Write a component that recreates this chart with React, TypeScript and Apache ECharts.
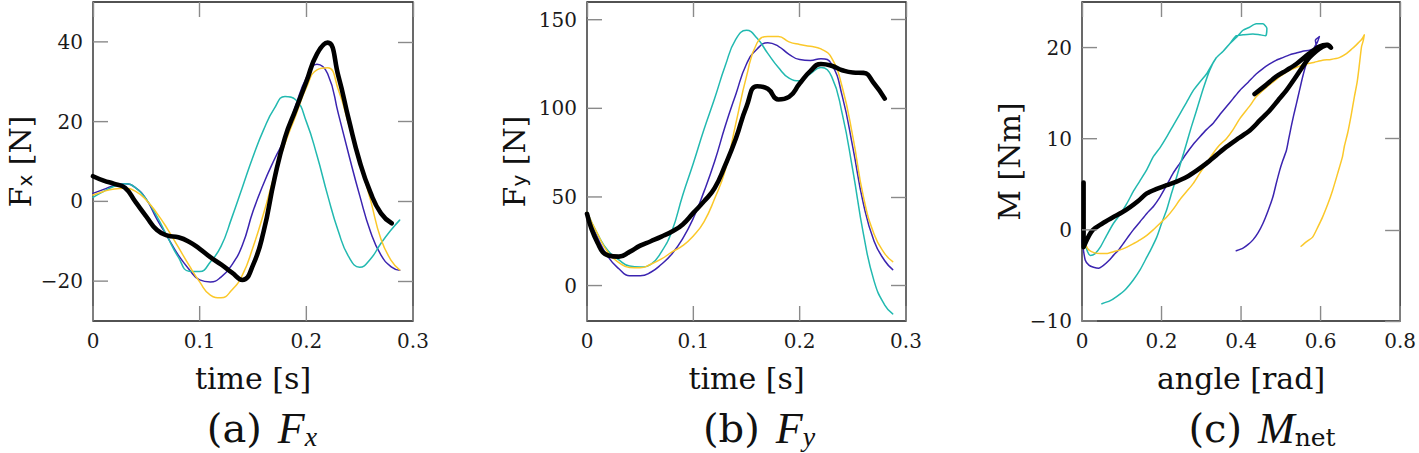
import React, { useEffect, useRef } from "react";
import * as echarts from "echarts";

// ---------- data ----------
const timeColor = [0, 0.01, 0.02, 0.03, 0.04, 0.05, 0.06, 0.07, 0.08, 0.09, 0.1, 0.11, 0.12, 0.13, 0.14, 0.15, 0.16, 0.17, 0.18, 0.19, 0.2, 0.21, 0.22, 0.23, 0.24, 0.25, 0.26, 0.27, 0.28, 0.2875];
const timeBlack = [0, 0.01, 0.02, 0.03, 0.04, 0.05, 0.06, 0.07, 0.08, 0.09, 0.1, 0.11, 0.12, 0.13, 0.14, 0.15, 0.16, 0.17, 0.18, 0.19, 0.2, 0.21, 0.22, 0.23, 0.24, 0.25, 0.26, 0.27, 0.28];

// (a) Fx [N]
const fxBlack = [6.3, 5.2, 4.4, 3.4, -0.2, -3.8, -7.2, -8.6, -9, -10.1, -11.9, -14, -15.8, -17.8, -19.7, -16, -7.5, 5.5, 16, 23, 30, 37, 39.8, 31.5, 20.3, 10, 2.3, -3, -5.5];
const fxPurple = [2, 3, 4, 4.4, 3.4, 0.5, -4.5, -9, -13.5, -17, -19.7, -20.2, -19, -16, -11, -2.5, 4.5, 10.5, 16, 24, 31, 34.4, 32, 22, 11.5, 1.5, -7.5, -13.5, -16.5, -17.3];
const fxCyan = [1, 2.5, 3.8, 4.4, 3.4, 0.5, -3.8, -9, -14, -17.5, -17.6, -15.2, -11.3, -4.2, 3.5, 11.2, 18, 23.3, 26.3, 25.5, 20, 11.5, 1.5, -7.5, -14, -16.5, -14.5, -10.5, -7, -4.7];
const fxYellow = [1.6, 2.5, 3.1, 3.3, 2.5, 0.3, -3, -7, -11.5, -16, -20.2, -23.5, -24.2, -22.3, -18.5, -11.5, -3, 6.5, 14.5, 21.5, 28.5, 33, 33.5, 28, 19, 10, 0.5, -9.5, -15, -17.2];

// (b) Fy [N]
const fyBlack = [40.5, 24, 17, 16.3, 19, 22.5, 25, 27.6, 30.5, 34.5, 41, 47.5, 55, 68, 83, 101, 112.5, 111, 105, 106.5, 114, 121, 125, 124, 121.5, 120.2, 120, 114, 105.5];
const fyPurple = [41.5, 27, 16, 9.5, 5.5, 5.5, 7.5, 12, 18, 26.5, 38, 53, 70, 90, 108, 125, 133.5, 137, 135, 130.5, 127.5, 127, 128, 125, 107, 78, 46, 25, 14, 9];
const fyCyan = [41.5, 29, 19.5, 14.5, 11, 10.5, 12, 19, 31, 51, 69, 88, 105.5, 124, 139, 144, 139.5, 131, 123, 117, 115.5, 119.5, 123, 118, 97, 65, 29, 2.5, -11, -16];
const fyYellow = [41.5, 29, 18.5, 13, 10.2, 10, 12, 15, 19, 22.5, 28, 36, 49, 65, 91.5, 118, 137, 140.5, 140.5, 137.5, 136, 135, 133.5, 128.5, 112, 84, 50, 29, 18, 13.5];

// (c) M [Nm] vs angle [rad]
const mBlackAngle = [0.004, 0.004, 0.012, 0.022, 0.033, 0.055, 0.079, 0.1, 0.121, 0.142, 0.163, 0.188, 0.213, 0.238, 0.263, 0.288, 0.313, 0.338, 0.363, 0.392, 0.422, 0.447, 0.472, 0.493, 0.514, 0.535, 0.555, 0.572, 0.589, 0.605, 0.618, 0.626, 0.615, 0.597, 0.57, 0.539, 0.514, 0.488, 0.46, 0.434];
const mBlackMoment = [5.2, -1.9, -1.1, -0.3, 0.2, 0.8, 1.4, 1.9, 2.5, 3.2, 4.0, 4.5, 4.9, 5.3, 5.8, 6.5, 7.3, 8.2, 9.1, 10.0, 10.9, 12.0, 13.1, 14.2, 15.3, 16.6, 17.9, 18.9, 19.6, 20.1, 20.3, 20.0, 20.3, 20.1, 19.3, 18.2, 17.5, 16.8, 15.8, 14.9];

const mCyanAngle = [0.008, 0.014, 0.021, 0.033, 0.046, 0.062, 0.079, 0.096, 0.113, 0.13, 0.146, 0.163, 0.179, 0.196, 0.213, 0.23, 0.246, 0.263, 0.28, 0.296, 0.313, 0.325, 0.338, 0.355, 0.371, 0.388, 0.405, 0.42, 0.438, 0.455, 0.465, 0.462, 0.447, 0.43, 0.405, 0.388, 0.371, 0.355, 0.338, 0.321, 0.305, 0.288, 0.275, 0.263, 0.25, 0.238, 0.225, 0.213, 0.2, 0.188, 0.175, 0.163, 0.146, 0.129, 0.108, 0.088, 0.07, 0.05];
const mCyanMoment = [-1.5, -2.4, -2.8, -2.6, -1.9, -0.6, 0.7, 1.7, 2.9, 4.3, 5.4, 6.6, 8.0, 9.0, 10.2, 11.5, 12.7, 14.0, 15.3, 16.2, 17.1, 18.0, 18.9, 19.6, 20.4, 21.1, 21.9, 22.2, 22.6, 22.6, 22.1, 21.3, 21.4, 21.5, 21.4, 21.3, 20.4, 19.6, 18.9, 17.5, 15.5, 13.1, 11.3, 9.5, 7.6, 5.8, 4.0, 2.2, 0.7, -0.8, -2.0, -3.0, -4.4, -5.5, -6.6, -7.3, -7.8, -8.1];

const mPurpleAngle = [0.0, 0.008, 0.018, 0.029, 0.042, 0.054, 0.067, 0.079, 0.092, 0.104, 0.117, 0.129, 0.146, 0.163, 0.18, 0.196, 0.213, 0.229, 0.246, 0.263, 0.28, 0.296, 0.313, 0.33, 0.346, 0.363, 0.38, 0.397, 0.418, 0.438, 0.455, 0.472, 0.488, 0.505, 0.522, 0.539, 0.555, 0.572, 0.585, 0.589, 0.587, 0.597, 0.592, 0.58, 0.572, 0.564, 0.555, 0.547, 0.539, 0.532, 0.526, 0.52, 0.514, 0.505, 0.497, 0.488, 0.48, 0.468, 0.455, 0.443, 0.43, 0.418, 0.405, 0.388];
const mPurpleMoment = [-1.1, -3.3, -3.9, -4.1, -4.2, -3.9, -3.4, -2.8, -2.2, -1.5, -0.7, 0, 0.9, 1.8, 2.6, 3.6, 4.9, 6.2, 7.3, 8.4, 9.4, 10.2, 11.0, 11.7, 12.6, 13.5, 14.4, 15.3, 16.2, 17.1, 17.7, 18.2, 18.6, 18.9, 19.2, 19.4, 19.6, 19.7, 19.9, 20.2, 20.8, 21.2, 20.6, 19.7, 19.0, 18.2, 16.8, 15.3, 13.8, 12.5, 11.3, 10.0, 8.7, 7.6, 6.5, 5.0, 3.6, 2.1, 0.7, -0.3, -1.1, -1.6, -2.0, -2.3];

const mYellowAngle = [0.004, 0.01, 0.017, 0.03, 0.046, 0.062, 0.079, 0.096, 0.113, 0.13, 0.146, 0.163, 0.179, 0.196, 0.213, 0.23, 0.246, 0.263, 0.28, 0.296, 0.313, 0.33, 0.346, 0.363, 0.38, 0.397, 0.422, 0.438, 0.46, 0.48, 0.5, 0.522, 0.543, 0.564, 0.585, 0.605, 0.626, 0.647, 0.664, 0.68, 0.69, 0.697, 0.705, 0.71, 0.707, 0.703, 0.697, 0.692, 0.685, 0.677, 0.668, 0.66, 0.655, 0.643, 0.63, 0.618, 0.605, 0.593, 0.58, 0.565, 0.551];
const mYellowMoment = [-0.8, -1.7, -2.2, -2.5, -2.6, -2.6, -2.4, -2.2, -1.9, -1.5, -1.1, -0.6, 0, 0.7, 1.4, 2.3, 3.3, 4.2, 5.1, 6.2, 7.3, 8.4, 9.3, 10.0, 11.0, 12.2, 13.6, 14.6, 15.5, 16.2, 16.9, 17.5, 17.9, 18.2, 18.4, 18.6, 18.7, 18.9, 19.3, 19.9, 20.3, 20.6, 21.0, 21.4, 20.7, 20.1, 17.9, 16.2, 14.6, 12.6, 10.6, 9.2, 8.0, 6.2, 4.3, 2.8, 1.4, 0.3, -0.8, -1.3, -1.8];

// tick values
const timeTicks = [0, 0.1, 0.2, 0.3];
const fxTicks = [-20, 0, 20, 40];
const fyTicks = [0, 50, 100, 150];
const angleTicks = [0, 0.2, 0.4, 0.6, 0.8];
const mTicks = [-10, 0, 10, 20];

// ---------- styles ----------
const C_CYAN = "#22b9b0";
const C_PURPLE = "#3b24b0";
const C_YELLOW = "#fbc82a";
const C_BLACK = "#000000";
const SERIF = "DejaVu Serif";
const TICK_LEN = 15;
const TICK_COLOR = "#8a8a8a";
const TICK_W = 1.4;

const zip = (xs: number[], ys: number[]) => xs.map((x, i) => [x, ys[i]]);
const fmt = (v: number) => {
  if (v === 0) return "0";
  const s = Math.abs(v) < 1 ? String(Math.round(Math.abs(v) * 10) / 10) : String(Math.abs(v));
  return v < 0 ? "\u2212" + s : s;
};

const tickStyle = { color: TICK_COLOR, width: TICK_W };
const labelStyle = { fontFamily: SERIF, fontSize: 20, color: "#1a1a1a" };

function mainX(grid: number, min: number, max: number, ticks: number[], name: string) {
  return {
    type: "value", gridIndex: grid, min, max, position: "bottom",
    axisLine: { show: false, onZero: false }, splitLine: { show: false },
    axisTick: { show: false },
    axisLabel: { show: true, margin: 10, ...labelStyle, formatter: fmt, customValues: ticks, showMinLabel: true, showMaxLabel: true },
    name, nameLocation: "middle", nameGap: 42,
    nameTextStyle: { fontFamily: SERIF, fontSize: 30, color: "#111" },
  };
}
function mirrorX(grid: number, min: number, max: number, ticks: number[]) {
  return {
    type: "value", gridIndex: grid, min, max, position: "top",
    axisLine: { show: false, onZero: false }, splitLine: { show: false },
    axisTick: { show: true, inside: true, length: TICK_LEN, lineStyle: tickStyle, customValues: ticks },
    axisLabel: { show: false },
  };
}
function mainY(grid: number, min: number, max: number, ticks: number[], name: string, rich: any) {
  return {
    type: "value", gridIndex: grid, min, max, position: "left",
    axisLine: { show: false, onZero: false }, splitLine: { show: false },
    axisTick: { show: false },
    axisLabel: { show: true, margin: 10, ...labelStyle, formatter: fmt, customValues: ticks },
    name, nameLocation: "middle", nameGap: 58, nameRotate: 90,
    nameTextStyle: { fontFamily: SERIF, fontSize: 30, color: "#111", rich },
  };
}
function mirrorY(grid: number, min: number, max: number, ticks: number[]) {
  return {
    type: "value", gridIndex: grid, min, max, position: "right",
    axisLine: { show: false, onZero: false }, splitLine: { show: false },
    axisTick: { show: true, inside: true, length: TICK_LEN, lineStyle: tickStyle, customValues: ticks },
    axisLabel: { show: false },
  };
}

function line(data: number[][], color: string, ax: number, black: boolean, smooth: number | boolean) {
  return {
    type: "line", xAxisIndex: ax, yAxisIndex: ax, data, showSymbol: false, symbol: "none",
    smooth,
    lineStyle: { color, width: black ? 4.6 : 1.5, cap: "round", join: "round" },
    z: black ? 5 : 3, silent: true,
  };
}

const subRich = {
  s: { fontFamily: "DejaVu Sans", fontSize: 20, color: "#111", verticalAlign: "bottom", lineHeight: 22 },
};

// panels: axis index, x ticks, y ticks, x min, y min
const PANELS = [
  { ax: 0, xt: timeTicks, yt: fxTicks, xMin: 0, yMin: -30 },
  { ax: 2, xt: timeTicks, yt: fyTicks, xMin: 0, yMin: -20 },
  { ax: 4, xt: angleTicks, yt: mTicks, xMin: 0, yMin: -10 },
];

export default function App() {
  const ref = useRef<HTMLDivElement>(null);
  useEffect(() => {
    document.body.style.margin = "0";
    if (!ref.current) return;
    const chart = echarts.init(ref.current, undefined, { renderer: "svg" });
    const capRich = {
      p: { fontFamily: SERIF, fontSize: 40, fill: "#111", lineHeight: 44, padding: [0, 16, 0, 0] },
      m: { fontFamily: "Liberation Serif", fontStyle: "italic", fontSize: 44, fill: "#111", lineHeight: 44 },
      s: { fontFamily: "Liberation Serif", fontStyle: "italic", fontSize: 28, fill: "#111", verticalAlign: "bottom", lineHeight: 22 },
      r: { fontFamily: SERIF, fontSize: 25, fill: "#111", verticalAlign: "bottom", lineHeight: 22 },
    };
    const option: any = {
      animation: false,
      backgroundColor: "#ffffff",
      grid: [
        { left: 93, top: 2, width: 320, height: 319, show: true, borderColor: "#1a1a1a", borderWidth: 1.3, backgroundColor: "transparent" },
        { left: 587, top: 2, width: 319, height: 319, show: true, borderColor: "#1a1a1a", borderWidth: 1.3, backgroundColor: "transparent" },
        { left: 1082, top: 2, width: 319, height: 319, show: true, borderColor: "#1a1a1a", borderWidth: 1.3, backgroundColor: "transparent" },
      ],
      xAxis: [
        mainX(0, 0, 0.3, timeTicks, "time [s]"),
        mirrorX(0, 0, 0.3, timeTicks),
        mainX(1, 0, 0.3, timeTicks, "time [s]"),
        mirrorX(1, 0, 0.3, timeTicks),
        mainX(2, 0, 0.8, angleTicks, "angle [rad]"),
        mirrorX(2, 0, 0.8, angleTicks),
      ],
      yAxis: [
        mainY(0, -30, 50, fxTicks, "F{s|x} [N]", subRich),
        mirrorY(0, -30, 50, fxTicks),
        mainY(1, -20, 160, fyTicks, "F{s|y} [N]", subRich),
        mirrorY(1, -20, 160, fyTicks),
        mainY(2, -10, 25, mTicks, "M [Nm]", subRich),
        mirrorY(2, -10, 25, mTicks),
      ],
      series: [
        line(zip(timeColor, fxPurple), C_PURPLE, 0, false, 0.5),
        line(zip(timeColor, fxCyan), C_CYAN, 0, false, 0.5),
        line(zip(timeColor, fxYellow), C_YELLOW, 0, false, 0.5),
        line(zip(timeBlack, fxBlack), C_BLACK, 0, true, 0.5),

        line(zip(timeColor, fyPurple), C_PURPLE, 2, false, 0.5),
        line(zip(timeColor, fyCyan), C_CYAN, 2, false, 0.5),
        line(zip(timeColor, fyYellow), C_YELLOW, 2, false, 0.5),
        line(zip(timeBlack, fyBlack), C_BLACK, 2, true, 0.5),

        line(zip(mPurpleAngle, mPurpleMoment), C_PURPLE, 4, false, 0.2),
        line(zip(mCyanAngle, mCyanMoment), C_CYAN, 4, false, 0.2),
        line(zip(mYellowAngle, mYellowMoment), C_YELLOW, 4, false, 0.2),
        line(zip(mBlackAngle, mBlackMoment), C_BLACK, 4, true, 0.3),
      ],
    };
    chart.setOption(option);

    // bottom and left inner ticks, positioned through the chart's own scales
    const tickEls: any[] = [];
    PANELS.forEach((p) => {
      const finder = { xAxisIndex: p.ax, yAxisIndex: p.ax };
      p.xt.forEach((t) => {
        const c = chart.convertToPixel(finder as any, [t, p.yMin]) as number[];
        if (!c) return;
        tickEls.push({ type: "line", z: 100, silent: true, shape: { x1: c[0], y1: c[1], x2: c[0], y2: c[1] - TICK_LEN }, style: { stroke: TICK_COLOR, lineWidth: TICK_W } });
      });
      p.yt.forEach((t) => {
        const c = chart.convertToPixel(finder as any, [p.xMin, t]) as number[];
        if (!c) return;
        tickEls.push({ type: "line", z: 100, silent: true, shape: { x1: c[0], y1: c[1], x2: c[0] + TICK_LEN, y2: c[1] }, style: { stroke: TICK_COLOR, lineWidth: TICK_W } });
      });
    });
    chart.setOption({
      graphic: [
        { type: "text", x: 262, y: 428, style: { text: "{p|(a)}{m|F}{s|x}", rich: capRich, align: "center", verticalAlign: "middle" } },
        { type: "text", x: 759, y: 428, style: { text: "{p|(b)}{m|F}{s|y}", rich: capRich, align: "center", verticalAlign: "middle" } },
        { type: "text", x: 1262, y: 428, style: { text: "{p|(c)}{m|M}{r|net}", rich: capRich, align: "center", verticalAlign: "middle" } },
        ...tickEls,
      ],
    });
    return () => chart.dispose();
  }, []);
  return <div ref={ref} style={{ width: 1419, height: 453 }} />;
}
